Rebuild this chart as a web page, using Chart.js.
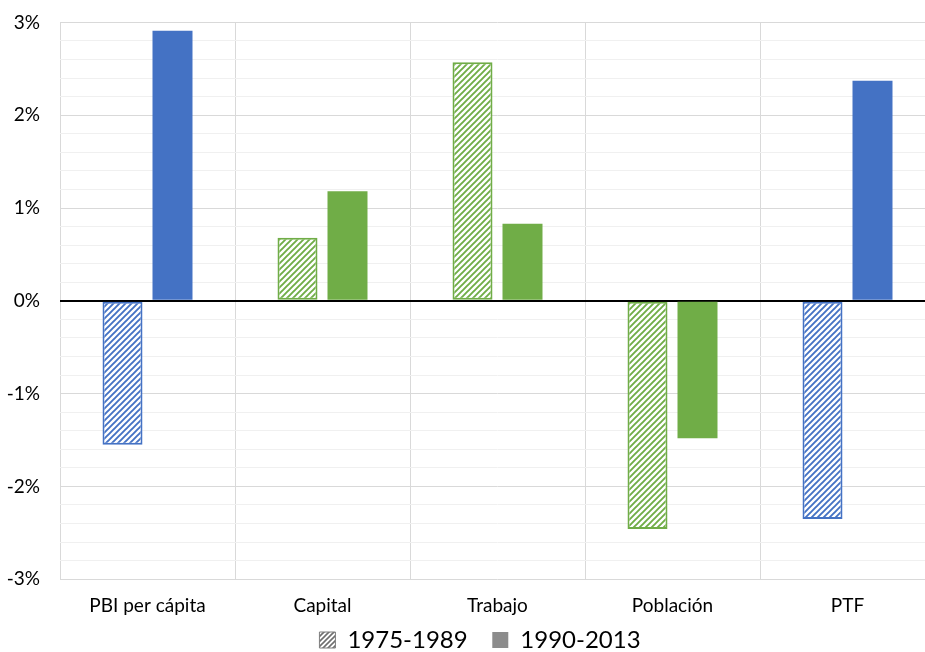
<!DOCTYPE html>
<html>
<head>
<meta charset="utf-8">
<script src="https://cdn.jsdelivr.net/npm/chart.js@4"></script>
<style>
  html, body { margin: 0; padding: 0; background: #fff; overflow: hidden; }
  #wrap { position: absolute; left: 0; top: 0; width: 925px; height: 652px; overflow: hidden; }
  #chart { position: absolute; left: 0; top: -9px; }
</style>
</head>
<body>
<div id="wrap"><canvas id="chart" width="960" height="676"></canvas></div>
<script>
// datos (% de crecimiento anual)
const categories = ['PBI per cápita', 'Capital', 'Trabajo', 'Población', 'PTF'];
const seriesNames = ['1975-1989', '1990-2013'];
const periodo1 = [-1.55, 0.68, 2.57, -2.46, -2.35];
const periodo2 = [2.91, 1.18, 0.83, -1.48, 2.37];
const barColors = ['#4472C4', '#70AD47', '#70AD47', '#70AD47', '#4472C4'];

const ctx = document.getElementById('chart').getContext('2d');

// patrón rayado diagonal
const makeHatch = (color, size, lw) => {
    const c = document.createElement('canvas');
    c.width = size; c.height = size;
    const g = c.getContext('2d');
    g.fillStyle = '#fff';
    g.fillRect(0, 0, size, size);
    g.strokeStyle = color;
    g.lineWidth = lw;
    g.beginPath();
    g.moveTo(-2, size + 2); g.lineTo(size + 2, -2);
    g.moveTo(-2, 2); g.lineTo(2, -2);
    g.moveTo(size - 2, size + 2); g.lineTo(size + 2, size - 2);
    g.stroke();
    return ctx.createPattern(c, 'repeat');
};

const hatchPatterns = barColors.map(col => makeHatch(col, 6, 1.9));
const grayHatch = makeHatch('#6f6f6f', 5, 1.6);

const isInt = v => Math.abs(v - Math.round(v)) < 1e-6;

// centrar la leyenda sobre todo el ancho del lienzo y subirla un poco
const legendShift = {
    id: 'legendShift',
    afterLayout(chart) {
        const lg = chart.legend;
        if (!lg) return;
        lg.left = chart.width - lg.right;
        lg.top -= 5;
        lg.bottom -= 5;
    }
};

new Chart(ctx, {
    type: 'bar',
    data: {
        labels: categories,
        datasets: [{
            label: seriesNames[0],
            data: periodo1,
            backgroundColor: hatchPatterns,
            borderColor: barColors,
            borderWidth: 2,
            borderSkipped: false,
            categoryPercentage: 0.5714,
            barPercentage: 0.8
        }, {
            label: seriesNames[1],
            data: periodo2,
            backgroundColor: barColors,
            borderWidth: 0,
            categoryPercentage: 0.5714,
            barPercentage: 0.8
        }]
    },
    plugins: [legendShift],
    options: {
        responsive: false,
        animation: false,
        layout: { padding: { top: 4, right: 25, left: 0, bottom: 0 } },
        plugins: {
            tooltip: { enabled: false },
            legend: {
                position: 'bottom',
                labels: {
                    color: '#000',
                    font: { family: 'Lato', size: 24, lineHeight: 0.8 },
                    boxWidth: 16,
                    boxHeight: 16,
                    padding: 0,
                    generateLabels: () => [
                        { text: seriesNames[0] + '    ', fillStyle: grayHatch, strokeStyle: '#7f7f7f', lineWidth: 1, datasetIndex: 0 },
                        { text: seriesNames[1], fillStyle: '#8c8c8c', strokeStyle: '#8c8c8c', lineWidth: 0, datasetIndex: 1 }
                    ]
                }
            }
        },
        scales: {
            x: {
                grid: { offset: true, color: '#d9d9d9', lineWidth: 1, drawTicks: false },
                border: { display: false },
                ticks: { color: '#000', font: { family: 'Lato', size: 19, lineHeight: 0.2 }, padding: 25 }
            },
            y: {
                min: -3,
                max: 3,
                afterFit: scale => { scale.width = 60; },
                ticks: {
                    stepSize: 0.2,
                    autoSkip: false,
                    color: '#000',
                    font: { family: 'Lato', size: 19 },
                    padding: 20,
                    callback: v => isInt(v) ? Math.round(v) + '%' : ''
                },
                grid: {
                    drawTicks: false,
                    color: c => Math.abs(c.tick.value) < 1e-6 ? '#000' : (isInt(c.tick.value) ? '#d9d9d9' : '#f0f0f0'),
                    lineWidth: c => Math.abs(c.tick.value) < 1e-6 ? 2 : 1
                },
                border: { display: false }
            }
        }
    }
});
</script>
</body>
</html>
